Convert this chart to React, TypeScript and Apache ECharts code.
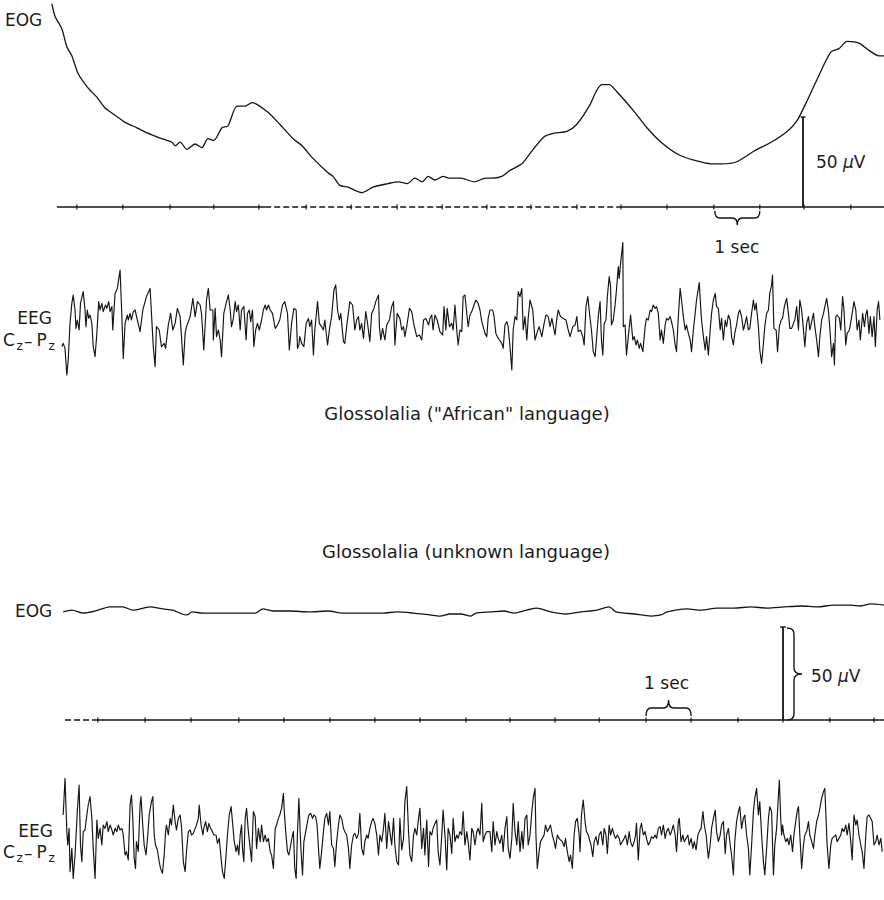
import { useEffect, useRef } from "react";
import * as echarts from "echarts";

// ---------- time axis (seconds) ----------
const T_MAX = 18.33;

// ---------- "African" language record ----------
// EOG trace: [time s, µV above the time-marker line]
const EOG_TOP: [number, number][] = [
  [0.04,113],[0.11,106],[0.26,99],[0.37,89],[0.48,84],[0.62,74],[0.84,66],[1.03,61],[1.21,55],[1.43,51],[1.65,47],[1.91,44],[2.15,41],[2.35,39],[2.57,37],[2.68,36],[2.75,34],[2.86,36],[3.01,32],[3.19,35],[3.34,33],[3.47,38],[3.60,37],[3.78,44],[3.91,45],[4.11,56],[4.29,56],[4.44,58],[4.77,53],[5.05,46],[5.34,38],[5.54,34],[5.78,27],[6.11,19],[6.22,17],[6.37,12],[6.55,11],[6.86,8],[7.10,11],[7.43,13],[7.65,14],[7.85,13],[8.02,16],[8.18,14],[8.31,17],[8.46,15],[8.64,17],[8.79,16],[9.03,16],[9.32,14],[9.58,16],[9.71,16],[9.93,17],[10.09,20],[10.37,24],[10.59,31],[10.86,39],[11.08,41],[11.36,42],[11.58,46],[11.85,56],[12.02,65],[12.13,68],[12.29,68],[12.46,64],[12.84,53],[13.12,44],[13.43,36],[13.82,29],[14.15,26],[14.53,24],[14.75,24],[15.08,25],[15.47,31],[15.85,36],[16.20,42],[16.42,48],[16.62,58],[16.86,71],[17.16,86],[17.34,88],[17.52,92],[17.78,91],[18.00,87],[18.22,84],[18.33,84],
];
// EEG Cz-Pz trace: [time s, µV]
const EEG_TOP: [number, number][] = [
  [0.26,-19.3],[0.29,-17.7],[0.33,-20.2],[0.37,-33.5],[0.40,-26],[0.44,-7.7],[0.48,2.3],[0.51,6.5],[0.55,-1],[0.57,-10.2],[0.60,-6],[0.64,-11],[0.67,2.3],[0.73,8.2],[0.77,-1],[0.79,-9.3],[0.82,-1],[0.85,-5.2],[0.88,-3.5],[0.92,-7.7],[0.95,-19.3],[0.99,-24.3],[1.03,-12.7],[1.07,3.2],[1.10,-1],[1.14,2.3],[1.17,-1.8],[1.22,1.5],[1.25,-0.2],[1.29,3.2],[1.32,-1.8],[1.36,0.7],[1.38,-11],[1.43,7.3],[1.48,9.8],[1.54,19],[1.58,-4.3],[1.61,-25.2],[1.65,-7.7],[1.70,-3.5],[1.72,-6],[1.76,-2.7],[1.79,-6],[1.83,-1.8],[1.87,-1],[1.92,-6],[1.98,-11.8],[2.04,-1],[2.12,5.7],[2.20,9.8],[2.23,-2.7],[2.27,-19.3],[2.31,-29.3],[2.34,-9.3],[2.40,-11],[2.45,-19.3],[2.51,-17.7],[2.54,-20.2],[2.60,-8.5],[2.65,-2.7],[2.70,-11],[2.75,-7.7],[2.80,-0.2],[2.86,-4.3],[2.89,-14.3],[2.93,-28.5],[2.97,-12.7],[3.00,-9.3],[3.08,-4.3],[3.14,4.8],[3.19,-4.3],[3.24,3.2],[3.30,1.5],[3.33,-2.7],[3.38,-21],[3.44,4],[3.48,9.8],[3.52,-1],[3.58,-1],[3.59,-16],[3.63,-0.2],[3.66,-14.3],[3.70,-11],[3.74,-16],[3.77,-24.3],[3.82,-2.7],[3.88,3.2],[3.92,6.5],[3.96,-1],[3.99,-9.3],[4.03,-5.2],[4.07,3.2],[4.10,-1.8],[4.14,1.5],[4.18,-11],[4.21,-1],[4.26,0.7],[4.31,-16],[4.34,-2.7],[4.38,-1],[4.41,-6.8],[4.45,-1],[4.48,-19.3],[4.52,-11],[4.56,-7.7],[4.60,-11],[4.65,-6],[4.69,-1],[4.73,1.5],[4.76,-1],[4.80,1.5],[4.84,-1],[4.89,-2.7],[4.95,-10.2],[5.00,-8.5],[5.05,-6],[5.11,1.5],[5.16,3.2],[5.22,-2.7],[5.26,-21],[5.31,-7.7],[5.36,-0.2],[5.41,-1],[5.44,-20.2],[5.47,-18.5],
  [5.49,-14.3],[5.53,-17.7],[5.58,-19.3],[5.63,-7.7],[5.68,-5.2],[5.71,-9.3],[5.75,-6],[5.79,-23.5],[5.82,-11],[5.88,3.2],[5.92,-7.7],[5.97,-9.3],[6.01,-11],[6.04,-6],[6.10,-18.5],[6.15,-9.3],[6.19,-4.3],[6.24,9],[6.28,11.5],[6.32,-1],[6.36,-6],[6.39,-2.7],[6.45,-16.8],[6.48,-17.7],[6.52,-9.3],[6.59,3.2],[6.65,1.5],[6.70,-11],[6.74,-6],[6.78,-4.3],[6.81,-11],[6.85,-7.7],[6.89,-15.2],[6.94,-1.8],[6.97,-6],[7.03,-16.8],[7.07,-2.7],[7.12,-0.2],[7.16,3.2],[7.22,6.5],[7.24,-9.3],[7.27,-16],[7.31,-10.2],[7.36,-16],[7.40,-8.5],[7.46,-6],[7.51,0.7],[7.55,3.2],[7.58,-18.5],[7.63,-2.7],[7.69,-5.2],[7.73,-11],[7.77,-9.3],[7.80,-14.3],[7.84,-9.3],[7.90,-0.2],[7.95,-1.8],[8.00,-8.5],[8.06,-14.3],[8.12,-13.5],[8.17,-16],[8.21,-6],[8.26,-5.2],[8.32,-8.5],[8.35,-5.2],[8.39,-3.5],[8.42,-11],[8.46,-3.5],[8.51,-6],[8.57,-11.8],[8.63,-13.5],[8.66,0.7],[8.70,-11],[8.73,-0.2],[8.78,-9.3],[8.83,-7.7],[8.86,-11],[8.90,1.5],[8.94,-11],[8.97,-18.5],[9.01,-11],[9.05,-11.8],[9.08,5.7],[9.12,6.5],[9.16,-2.7],[9.19,-9.3],[9.23,-3.5],[9.27,-1.8],[9.32,1.5],[9.36,4],[9.41,2.3],[9.45,-1],[9.49,-6.8],[9.52,-9.3],[9.56,-12.7],[9.60,-14.3],[9.63,-5.2],[9.67,-1],[9.73,-1],[9.76,-4.3],[9.80,-12.7],[9.83,-14.3],[9.88,-16],[9.93,-17.7],[9.96,-20.2],[10.00,-8.5],[10.04,-6.8],[10.07,-9.3],[10.11,-19.3],[10.15,-31],[10.18,-11],[10.22,-4.3],[10.26,-6],[10.29,8.2],[10.33,5.7],[10.37,9.8],[10.40,-11],[10.44,-4.3],[10.48,-16],[10.51,-5.2],[10.55,4],[10.61,-1],[10.66,-16],[10.70,-12.7],[10.75,-9.3],[10.81,-14.3],[10.86,-7.7],[10.90,-3.5],[10.95,-4.3],[10.99,-9.3],[11.03,-5.2],[11.10,-13.5],[11.14,-5.2],[11.17,-1],[11.22,-4.3],[11.28,-5.2],[11.34,-6],[11.39,-11],[11.43,-14.3],[11.49,-9.3],[11.54,-8.5],[11.58,-4.3],[11.61,-11.8],[11.66,-11],[11.71,-14.3],[11.74,-18.5],[11.78,0.7],[11.82,5.7],[11.85,-1],
  [11.90,-11],[11.94,-21.8],[11.98,-24.3],[12.01,-16],[12.05,-4.3],[12.09,3.2],[12.12,-16],[12.15,-23.5],[12.18,-7.7],[12.22,-6],[12.25,5.7],[12.29,15.7],[12.32,10.7],[12.34,-8.5],[12.38,-6],[12.42,1.5],[12.45,9],[12.49,20.7],[12.51,14.8],[12.54,22.3],[12.59,32.7],[12.60,-9.3],[12.64,-8.5],[12.67,-23.5],[12.71,-14.3],[12.76,-3.5],[12.81,-16],[12.84,-14.3],[12.88,-18.5],[12.91,-16],[12.95,-20.2],[12.98,-17.7],[13.03,-21.8],[13.08,-9.3],[13.11,-5.2],[13.15,-6],[13.19,-1],[13.22,-1.8],[13.26,1.5],[13.30,-0.2],[13.33,0.7],[13.37,-2.7],[13.41,-16],[13.44,-11],[13.48,-17.7],[13.52,-8.5],[13.55,-5.2],[13.59,-6],[13.63,-4.3],[13.66,-6.8],[13.70,-11],[13.74,-18.5],[13.77,-21.8],[13.81,-4.3],[13.85,9.8],[13.88,4],[13.92,-4.3],[13.96,-11],[13.99,-8.5],[14.03,-12.7],[14.07,-16],[14.10,-21.8],[14.14,-11],[14.18,-2.7],[14.21,4],[14.25,9.8],[14.27,12.7],[14.30,0.7],[14.32,-6],[14.36,-14.3],[14.40,-21],[14.43,-14.3],[14.47,-23.5],[14.51,-11],[14.54,-2.7],[14.58,4],[14.62,7.3],[14.65,0.7],[14.69,-0.2],[14.73,-11],[14.76,-5.2],[14.80,-16],[14.84,-6],[14.87,-9.3],[14.91,-3.5],[14.95,-6],[14.98,-14.3],[15.02,-18.5],[15.05,-12.7],[15.09,-8.5],[15.13,-2.7],[15.16,-1],[15.20,-4.3],[15.24,-11],[15.27,-8.5],[15.31,-4.3],[15.35,-11],[15.38,-10.2],[15.42,-2.7],[15.46,4],[15.49,-1],[15.52,2.3],[15.57,-9.3],[15.60,-21],[15.64,-27.7],[15.68,-17.7],[15.71,-9.3],[15.75,-2.7],[15.79,-1],[15.82,7.3],[15.86,11.5],[15.88,16.5],[15.91,-10.2],[15.96,-11],[15.99,-21.8],[16.03,-9.3],[16.07,-6],[16.10,-5.2],[16.14,0.7],[16.19,4.8],[16.23,-2.7],[16.26,-10.2],[16.30,-10.2],[16.34,-7.7],[16.37,-6],[16.41,0.7],[16.45,-11],[16.48,4],[16.52,-1],[16.56,-11],[16.59,-19.3],[16.63,-7.7],[16.67,-4.3],[16.70,-11],[16.74,-6.8],[16.78,-2.7],[16.81,-9.3],[16.85,-16],[16.89,-24.3],[16.92,-14.3],[16.96,-6],[17.00,-2.7],[17.03,0.7],[17.07,4.8],[17.11,-1.8],[17.14,-10.2],[17.18,-24.3],[17.22,-17.7],[17.24,-28.5],[17.27,-4.3],[17.30,-3.5],[17.35,-5.2],[17.38,-11],[17.42,5.7],[17.45,-1],[17.49,-18.5],[17.52,-12.7],[17.57,-11],[17.62,-4.3],[17.67,3.2],[17.71,-1],[17.74,-11],[17.78,-6],[17.81,-16],[17.86,-2.7],[17.90,-9.3],[17.93,-3.5],[17.96,-1],[18.00,-12.7],[18.03,-4.3],[18.07,-14.3],[18.11,-4.3],[18.14,-19.3],[18.18,-1],[18.21,3.2],[18.24,-6],
];
// one-second time marks and calibration
const TICKS_TOP = [0.59,1.60,2.64,3.60,4.59,5.63,6.62,7.63,8.62,9.60,10.57,11.58,12.55,13.56,14.59,15.60,16.57,17.60];
const MARKER_TOP_SOLID: [number, number][] = [[0.15, 4.73], [12.53, T_MAX]];
const MARKER_TOP_DASHED: [number, number][] = [[4.73, 12.53]];
const CAL_TOP = [16.55, 50]; // time (s), µV
const SEC_TOP = [14.59, 15.60]; // 1 sec brace

// ---------- unknown language record ----------
const EOG_BOTTOM: [number, number][] = [
  [0.29,58.1],[0.48,59.1],[0.73,57.5],[0.99,58.6],[1.32,60.8],[1.60,60.8],[1.82,59.1],[2.20,60.8],[2.48,59.7],[2.70,59.1],[2.90,57.0],[3.01,56.5],[3.12,58.1],[3.36,57.5],[3.74,57.5],[4.18,57.5],[4.51,57.5],[4.68,59.7],[4.90,58.6],[5.27,58.6],[5.71,58.1],[6.11,58.6],[6.44,57.5],[6.97,57.5],[7.32,57.5],[7.63,58.1],[7.98,57.5],[8.35,56.5],[8.57,55.9],[8.79,57.0],[9.03,57.0],[9.25,55.9],[9.36,57.5],[9.69,58.1],[9.98,58.6],[10.20,57.5],[10.48,59.1],[10.70,60.2],[11.01,58.1],[11.34,57.0],[11.67,58.1],[12.02,59.1],[12.29,60.8],[12.44,58.1],[12.84,57.0],[13.21,55.9],[13.43,56.5],[13.56,58.1],[14.00,59.7],[14.31,59.1],[14.66,60.2],[15.03,60.2],[15.41,60.8],[15.76,60.2],[16.13,60.8],[16.51,61.3],[16.86,60.8],[17.23,61.8],[17.60,61.8],[17.82,61.3],[18.04,62.4],[18.33,61.8],
];
const EEG_BOTTOM: [number, number][] = [
  [0.29,-2.5],[0.33,15.8],[0.37,-10.8],[0.39,-17.5],[0.42,-9.2],[0.44,-30.8],[0.48,-19.2],[0.51,-34.2],[0.55,-22.5],[0.57,-14.2],[0.60,-0.8],[0.64,12.5],[0.67,-17.5],[0.70,-25.8],[0.73,-10.8],[0.77,-10],[0.81,-2.5],[0.84,2.5],[0.88,6.7],[0.92,-4.2],[0.95,-19.2],[0.99,-34.2],[1.03,-5],[1.06,-14.2],[1.10,-9.2],[1.14,-17.5],[1.17,-7.5],[1.21,-9.2],[1.25,-5.8],[1.28,-10.8],[1.32,-7.5],[1.36,-10],[1.39,-12.5],[1.43,-9.2],[1.47,-10.8],[1.50,-7.5],[1.54,-10],[1.58,-9.2],[1.61,-12.5],[1.65,-22.5],[1.68,-20.8],[1.72,-25],[1.76,2.5],[1.79,7.5],[1.82,-4.2],[1.85,-24.2],[1.88,-29.2],[1.90,-15.8],[1.94,-20.8],[1.98,2.5],[2.00,6.7],[2.04,-8.3],[2.07,-17.5],[2.11,-22.5],[2.15,-12.5],[2.18,-2.5],[2.23,4.2],[2.26,6.7],[2.29,-12.5],[2.32,-17.5],[2.36,-20],[2.40,-25.8],[2.43,-29.2],[2.47,-31.7],[2.51,-22.5],[2.54,-10.8],[2.56,-7.5],[2.60,-12.5],[2.64,-4.2],[2.67,-7.5],[2.71,2.5],[2.75,-5.8],[2.78,-10],[2.82,-4.2],[2.86,-2.5],[2.89,-8.3],[2.93,-25.8],[2.97,-30.8],[3.00,-20.8],[3.04,-10.8],[3.08,-10],[3.11,-12.5],[3.15,-11.7],[3.19,-9.2],[3.22,-7.5],[3.26,-4.2],[3.28,2.5],[3.32,-7.5],[3.36,-12.5],[3.38,-9.2],[3.42,-5.8],[3.46,-10.8],[3.49,-6.7],[3.53,-9.2],[3.57,-10.8],[3.60,-12.5],[3.65,-12.5],[3.68,-16.7],[3.72,-14.2],[3.76,-24.2],[3.79,-30.8],[3.83,-34.2],[3.87,-22.5],[3.90,-12.5],[3.94,-2.5],[3.98,1.7],[4.01,-5.8],[4.05,-15.8],[4.09,-20.8],[4.12,-17.5],[4.15,-22.5],[4.18,-12.5],[4.21,-7.5],[4.23,-19.2],[4.26,-25.8],[4.29,-4.2],[4.32,0.8],[4.36,-10.8],[4.40,-19.2],[4.43,-25.8],[4.47,-0.8],[4.51,-3.3],[4.54,-19.2],[4.58,-9.2],[4.62,-15.8],[4.65,-7.5],[4.69,-15.8],[4.73,-12.5],[4.76,-15.8],[4.80,-14.2],[4.84,-20.8],[4.87,-22.5],[4.91,-29.2],[4.95,-9.2],[4.98,-7.5],[5.02,-4.2],[5.05,-2.5],[5.09,0.8],[5.13,8.3],[5.15,-0.8],[5.18,-10.8],[5.22,-20.8],[5.25,-22.5],[5.29,-17.5],[5.33,-12.5],[5.35,-10.8],[5.38,-29.2],[5.41,-34.2],[5.44,-10.8],[5.47,5.8],
  [5.51,-17.5],[5.55,-32.5],[5.58,-15.8],[5.62,-10.8],[5.66,-5.8],[5.69,-2.5],[5.73,-1.7],[5.77,-4.2],[5.80,-2.5],[5.84,-3.3],[5.87,-7.5],[5.91,-22.5],[5.93,-29.2],[5.97,-20.8],[6.01,-10.8],[6.04,-4.2],[6.08,-1.7],[6.12,-7.5],[6.15,-0.8],[6.19,-17.5],[6.23,-19.2],[6.26,-28.3],[6.30,-15.8],[6.34,-7.5],[6.37,-2.5],[6.41,-4.2],[6.45,-9.2],[6.48,-10.8],[6.52,-12.5],[6.56,-19.2],[6.59,-29.2],[6.63,-17.5],[6.67,-12.5],[6.70,-11.7],[6.74,-14.2],[6.78,-11.7],[6.81,-1.7],[6.85,-19.2],[6.89,-22.5],[6.92,-15.8],[6.96,-12.5],[6.99,-14.2],[7.03,-9.2],[7.07,-5.8],[7.10,-4.2],[7.14,-6.7],[7.18,-12.5],[7.22,-22.5],[7.25,-12.5],[7.29,-15.8],[7.33,-9.2],[7.36,-1.7],[7.40,-19.2],[7.44,-5.8],[7.47,-10.8],[7.51,-17.5],[7.55,-4.2],[7.58,-17.5],[7.62,-25.8],[7.66,-27.5],[7.69,-4.2],[7.73,-20],[7.77,-14.2],[7.80,4.2],[7.84,11.7],[7.88,-10.8],[7.91,-22.5],[7.95,-25.8],[7.99,-12.5],[8.02,-9.2],[8.06,-12.5],[8.10,-4.2],[8.13,0.8],[8.17,-19.2],[8.21,-9.2],[8.24,-22.5],[8.28,-5],[8.32,-28.3],[8.35,-10.8],[8.39,-12.5],[8.42,-9.2],[8.46,-6.7],[8.50,-5],[8.53,-20.8],[8.57,-27.5],[8.61,-12.5],[8.64,0],[8.68,-12.5],[8.72,-30],[8.75,-9.2],[8.79,-12.5],[8.83,-21.7],[8.86,-4.2],[8.90,-15.8],[8.94,-12.5],[8.97,-14.2],[9.01,-10.8],[9.05,-12.5],[9.08,-0.8],[9.12,-17.5],[9.16,-10.8],[9.19,-15.8],[9.23,-25],[9.27,-9.2],[9.30,-10.8],[9.34,-17.5],[9.38,-10.8],[9.41,-9.2],[9.45,-12.5],[9.49,3.3],[9.52,-15.8],[9.56,-12.5],[9.60,-10.8],[9.67,-10.8],[9.71,-20.8],[9.74,-5.8],[9.78,-17.5],[9.82,-10.8],[9.85,-14.2],[9.89,-16.7],[9.93,-12.5],[9.96,-20.8],[10.00,-9.2],[10.04,-3.3],[10.07,-19.2],[10.11,-24.2],[10.15,-14.2],[10.18,3.3],[10.22,-10.8],[10.26,-17.5],[10.29,-5.8],[10.33,-20.8],[10.37,-10.8],[10.40,-19.2],[10.44,-4.2],[10.48,-2.5],[10.51,-17.5],[10.55,-12.5],[10.59,-0.8],[10.62,5.8],[10.66,10.8],[10.68,-12.5],[10.71,-29.2],[10.75,-20.8],[10.78,-15.8],[10.82,-14.2],[10.86,-12.5],[10.89,-7.5],[10.93,-10.8],[10.97,-9.2],[11.00,-7.5],[11.04,-12.5],[11.08,-15.8],[11.11,-19.2],[11.15,-12.5],[11.19,-14.2],[11.22,-15],[11.26,-15.8],[11.30,-18.3],[11.33,-14.2],[11.37,-20.8],[11.41,-25.8],[11.44,-22.5],[11.48,-29.2],[11.52,-12.5],[11.55,-5.8],[11.59,-4.2],[11.63,-12.5],[11.65,-20.8],[11.68,-2.5],[11.72,5],[11.76,-5.8],[11.79,-10.8],[11.83,-12.5],
  [11.89,-17.5],[11.93,-23.3],[11.96,-15.8],[12.00,-13.3],[12.04,-17.5],[12.07,-12.5],[12.11,-10.8],[12.15,-17.5],[12.18,-9.2],[12.22,-12.5],[12.25,-21.7],[12.29,-7.5],[12.32,-12.5],[12.36,-9.2],[12.40,-12.5],[12.43,-14.2],[12.47,-12.5],[12.51,-14.2],[12.54,-17.5],[12.58,-15.8],[12.62,-14.2],[12.65,-12.5],[12.69,-17.5],[12.73,-10.8],[12.76,-15.8],[12.80,-18.3],[12.84,-15.8],[12.87,-12.5],[12.89,-6.7],[12.93,-25],[12.97,-9.2],[13.00,-6.7],[13.04,-12.5],[13.08,-10.8],[13.11,-14.2],[13.15,-17.5],[13.19,-15.8],[13.22,-13.3],[13.26,-14.2],[13.30,-12.5],[13.33,-14.2],[13.37,-9.2],[13.41,-8.3],[13.44,-12.5],[13.48,-7.5],[13.52,-14.2],[13.55,-10.8],[13.59,-9.2],[13.63,-12.5],[13.66,-10.8],[13.70,-7.5],[13.74,-12.5],[13.77,-20.8],[13.81,-5.8],[13.83,-4.2],[13.87,-15.8],[13.91,-12.5],[13.94,-15.8],[13.98,-14.2],[14.02,-12.5],[14.05,-17.5],[14.09,-14.2],[14.13,-19.2],[14.16,-15.8],[14.20,-20],[14.24,-12.5],[14.27,-10.8],[14.31,-9.2],[14.35,-0.8],[14.38,-7.5],[14.42,-12.5],[14.47,-24.2],[14.51,-17.5],[14.54,-9.2],[14.58,-4.2],[14.62,0],[14.65,-10.8],[14.69,-15.8],[14.73,-12.5],[14.76,-7.5],[14.80,-5.8],[14.84,-21.7],[14.87,-12.5],[14.91,-9.2],[14.95,-17.5],[14.98,-22.5],[15.02,-32.5],[15.05,-15.8],[15.09,-5.8],[15.13,-0.8],[15.16,1.7],[15.20,-9.2],[15.24,-4.2],[15.27,-2.5],[15.31,-12.5],[15.35,-19.2],[15.38,-32.5],[15.42,-17.5],[15.46,-0.8],[15.49,5.8],[15.53,10.8],[15.57,-2.5],[15.60,4.2],[15.64,-12.5],[15.68,-25.8],[15.71,-32.5],[15.75,-19.2],[15.79,-4.2],[15.82,1.7],[15.86,-0.8],[15.90,-32.5],[15.93,-17.5],[15.97,-9.2],[16.01,7.5],[16.03,15],[16.06,-4.2],[16.08,-12.5],[16.10,-7.5],[16.13,-12.5],[16.17,-15.8],[16.21,-14.2],[16.24,-17.5],[16.28,-12.5],[16.32,-20.8],[16.35,-12.5],[16.39,-5.8],[16.42,-0.8],[16.45,1.7],[16.48,-12.5],[16.52,-29.2],[16.56,-17.5],[16.59,-12.5],[16.63,-10.8],[16.67,-5.8],[16.70,-12.5],[16.74,-15.8],[16.78,-19.2],[16.81,-12.5],[16.85,-5.8],[16.89,-2.5],[16.92,0.8],[16.96,5.8],[17.00,9.2],[17.03,10.8],[17.05,-0.8],[17.08,-17.5],[17.12,-29.2],[17.16,-17.5],[17.19,-14.2],[17.23,-13.3],[17.27,-12.5],[17.30,-15.8],[17.34,-14.2],[17.38,-12.5],[17.41,-9.2],[17.45,-10.8],[17.49,-7.5],[17.52,-12.5],[17.56,-6.7],[17.60,-15.8],[17.63,-25],[17.67,-2.5],[17.71,-7.5],[17.74,-5],[17.78,-12.5],[17.82,-17.5],[17.85,-20.8],[17.89,-29.2],[17.93,-12.5],[17.96,-3.3],[18.00,-2.5],[18.04,-4.2],[18.07,-5.8],[18.11,-17.5],[18.15,-15.8],[18.18,-12.5],[18.22,-17.5],[18.26,-14.2],[18.29,-20.8],
];
const TICKS_BOTTOM = [1.05,2.09,3.10,4.15,5.14,6.15,7.14,8.13,9.14,10.11,11.10,12.07,13.10,14.09,15.12,16.11,17.14,18.11];
const MARKER_BOTTOM_SOLID: [number, number][] = [[1.03, T_MAX]];
const MARKER_BOTTOM_DASHED: [number, number][] = [[0.33, 1.03]];
const CAL_BOTTOM = [16.11, 50];
const SEC_BOTTOM = [13.10, 14.09];

// ---------- texts ----------
const TITLE_TOP = 'Glossolalia ("African" language)';
const TITLE_BOTTOM = "Glossolalia (unknown language)";

// ---------- styles ----------
const INK = "#141414";
const TEXT = "#1c1c1c";
const FONT = '"DejaVu Sans", "Liberation Sans", sans-serif';

function textStyle(text: string, size: number, align: string, extra: any = {}) {
  return {
    text,
    fill: TEXT,
    font: `${size}px ${FONT}`,
    fontSize: size,
    fontFamily: FONT,
    textAlign: align,
    textVerticalAlign: "middle",
    align,
    verticalAlign: "middle",
    ...extra,
  };
}

function uvStyle(size: number) {
  return textStyle("50 {i|\u03bc}V", size, "left", {
    rich: {
      i: { fontStyle: "italic", fontSize: size, fontFamily: FONT, fill: TEXT },
    },
  });
}

function braceH(x0: number, x1: number, yEnd: number, yBand: number, yTip: number) {
  const xm = (x0 + x1) / 2;
  const r = Math.min(5, (x1 - x0) / 6);
  return `M${x0},${yEnd} Q${x0},${yBand} ${x0 + r},${yBand} L${xm - r},${yBand} Q${xm},${yBand} ${xm},${yTip} Q${xm},${yBand} ${xm + r},${yBand} L${x1 - r},${yBand} Q${x1},${yBand} ${x1},${yEnd}`;
}

function braceV(y0: number, y1: number, xEnd: number, xBand: number, xTip: number) {
  const ym = (y0 + y1) / 2;
  const r = Math.min(6, (y1 - y0) / 6);
  return `M${xEnd},${y0} Q${xBand},${y0} ${xBand},${y0 + r} L${xBand},${ym - r} Q${xBand},${ym} ${xTip},${ym} Q${xBand},${ym} ${xBand},${ym + r} L${xBand},${y1 - r} Q${xBand},${y1} ${xEnd},${y1}`;
}

function traceSeries(data: [number, number][], idx: number, width: number, smooth: number | boolean) {
  return {
    type: "line",
    xAxisIndex: idx,
    yAxisIndex: idx,
    data,
    symbol: "none",
    showSymbol: false,
    smooth,
    clip: false,
    silent: true,
    lineStyle: { color: INK, width, join: "round" },
  };
}

function markerSeries(segs: [number, number][], idx: number, dashed: boolean) {
  return segs.map((s) => ({
    type: "line",
    xAxisIndex: idx,
    yAxisIndex: idx,
    data: [
      [s[0], 0],
      [s[1], 0],
    ],
    symbol: "none",
    clip: false,
    silent: true,
    lineStyle: { color: INK, width: 1.3, type: dashed ? [6, 3] : "solid" },
  }));
}

function tickSeries(ticks: number[], idx: number) {
  return {
    type: "scatter",
    xAxisIndex: idx,
    yAxisIndex: idx,
    data: ticks.map((t) => [t, 0]),
    symbol: "rect",
    symbolSize: [1.5, 5],
    silent: true,
    itemStyle: { color: INK },
  };
}

function buildOption() {
  const pathStyle = { fill: "none", stroke: INK, lineWidth: 1.4 };

  const annotTop = {
    type: "custom",
    xAxisIndex: 0,
    yAxisIndex: 0,
    silent: true,
    data: [[SEC_TOP[0], 0]],
    renderItem: (_p: any, api: any) => {
      const base = api.coord([CAL_TOP[0], 0]);
      const top = api.coord([CAL_TOP[0], CAL_TOP[1]]);
      const s0 = api.coord([SEC_TOP[0], 0]);
      const s1 = api.coord([SEC_TOP[1], 0]);
      const by = base[1];
      return {
        type: "group",
        children: [
          { type: "line", shape: { x1: base[0], y1: by, x2: top[0], y2: top[1] }, style: { stroke: INK, lineWidth: 1.8 } },
          { type: "line", shape: { x1: top[0] - 2.5, y1: top[1], x2: top[0] + 2.5, y2: top[1] }, style: { stroke: INK, lineWidth: 1.4 } },
          { type: "path", shape: { pathData: braceH(s0[0] + 1, s1[0], by + 4, by + 11, by + 18) }, style: pathStyle },
          { type: "text", x: (s0[0] + s1[0]) / 2, y: by + 40, style: textStyle("1 sec", 17, "center") },
          { type: "text", x: base[0] + 13, y: (by + top[1]) / 2, style: uvStyle(17) },
        ],
      };
    },
  };

  const annotBottom = {
    type: "custom",
    xAxisIndex: 2,
    yAxisIndex: 2,
    silent: true,
    data: [[SEC_BOTTOM[0], 0]],
    renderItem: (_p: any, api: any) => {
      const base = api.coord([CAL_BOTTOM[0], 0]);
      const top = api.coord([CAL_BOTTOM[0], CAL_BOTTOM[1]]);
      const s0 = api.coord([SEC_BOTTOM[0], 0]);
      const s1 = api.coord([SEC_BOTTOM[1], 0]);
      const by = base[1];
      const bx = base[0];
      return {
        type: "group",
        children: [
          { type: "line", shape: { x1: bx, y1: by, x2: bx, y2: top[1] }, style: { stroke: INK, lineWidth: 1.8 } },
          { type: "line", shape: { x1: bx - 3, y1: top[1], x2: bx + 3, y2: top[1] }, style: { stroke: INK, lineWidth: 1.4 } },
          { type: "path", shape: { pathData: braceH(s0[0], s1[0], by - 4, by - 12, by - 20) }, style: pathStyle },
          { type: "path", shape: { pathData: braceV(top[1] + 1, by, bx + 4, bx + 11, bx + 19) }, style: pathStyle },
          { type: "text", x: (s0[0] + s1[0]) / 2 - 2, y: by - 37, style: textStyle("1 sec", 17, "center") },
          { type: "text", x: bx + 28, y: (by + top[1]) / 2 + 2, style: uvStyle(17) },
        ],
      };
    },
  };

  const label = (text: string, x: number, y: number, size: number, align = "left") => ({
    type: "text",
    x,
    y,
    silent: true,
    style: textStyle(text, size, align),
  });

  const leadLabel = (y: number) => [
    label("C", 3, y, 17),
    label("z", 16.5, y + 6, 12),
    label("\u2013", 24, y + 1, 17),
    label("P", 36.5, y, 17),
    label("z", 48.5, y + 6, 12),
  ];

  return {
    animation: false,
    backgroundColor: "#ffffff",
    grid: [
      { left: 50, top: 0, width: 834, height: 207 },
      { left: 50, top: 236, width: 834, height: 144 },
      { left: 50, top: 590, width: 834, height: 130 },
      { left: 50, top: 738, width: 834, height: 144 },
    ],
    xAxis: [0, 1, 2, 3].map((i) => ({ type: "value", gridIndex: i, min: 0, max: T_MAX, show: false })),
    yAxis: [
      { type: "value", gridIndex: 0, min: 0, max: 115, show: false },
      { type: "value", gridIndex: 1, min: -36, max: 36, show: false },
      { type: "value", gridIndex: 2, min: 0, max: 69.9, show: false },
      { type: "value", gridIndex: 3, min: -36, max: 36, show: false },
    ],
    series: [
      traceSeries(EOG_TOP, 0, 1.3, 0.25),
      ...markerSeries(MARKER_TOP_SOLID, 0, false),
      ...markerSeries(MARKER_TOP_DASHED, 0, true),
      tickSeries(TICKS_TOP, 0),
      annotTop,
      traceSeries(EEG_TOP, 1, 1.15, false),
      traceSeries(EOG_BOTTOM, 2, 1.3, 0.25),
      ...markerSeries(MARKER_BOTTOM_SOLID, 2, false),
      ...markerSeries(MARKER_BOTTOM_DASHED, 2, true),
      tickSeries(TICKS_BOTTOM, 2),
      annotBottom,
      traceSeries(EEG_BOTTOM, 3, 1.15, false),
    ],
    graphic: [
      label("EOG", 5, 20, 17),
      label("EEG", 52, 318, 17, "right"),
      ...leadLabel(340),
      label(TITLE_TOP, 467, 413, 18, "center"),
      label(TITLE_BOTTOM, 466, 551, 18, "center"),
      label("EOG", 15, 611, 17),
      label("EEG", 53, 831, 17, "right"),
      ...leadLabel(852),
    ],
  };
}

export default function App() {
  const ref = useRef<HTMLDivElement>(null);
  useEffect(() => {
    if (!ref.current) return;
    const chart = echarts.init(ref.current, null, { renderer: "svg" });
    chart.setOption(buildOption() as any);
    return () => chart.dispose();
  }, []);
  return (
    <div
      ref={ref}
      style={{ position: "fixed", left: 0, top: 0, width: 884, height: 900, background: "#ffffff" }}
    />
  );
}
